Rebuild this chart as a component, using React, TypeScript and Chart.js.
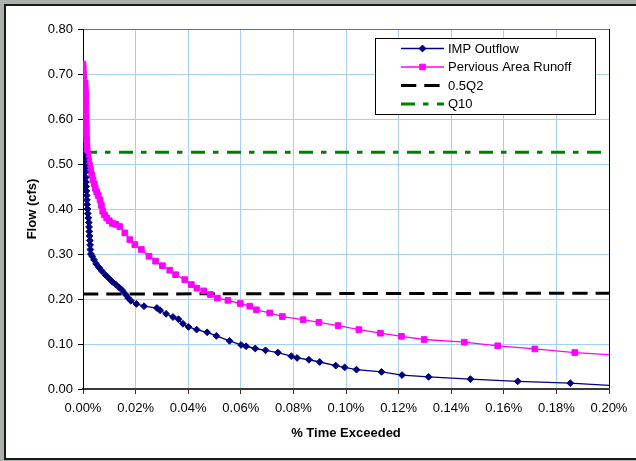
import { useEffect, useRef } from 'react';
import { Chart, registerables } from 'chart.js';

Chart.register(...registerables);

// % Time Exceeded (x, in percent) and Flow (cfs) (y)
const impOutflowX = [
  0.0, 0.0002, 0.0003, 0.0005, 0.0006, 0.0008, 0.001, 0.0011, 0.0012, 0.0013, 0.0014, 0.0015,
  0.0016, 0.0017, 0.0018, 0.002, 0.0022, 0.0023, 0.0024, 0.0025, 0.0026, 0.0027, 0.0028, 0.003,
  0.0035, 0.0042, 0.005, 0.0061, 0.0072, 0.0086, 0.01, 0.0112, 0.0125, 0.0137, 0.015, 0.0162,
  0.0172, 0.0182, 0.0203, 0.0232, 0.0281, 0.0293, 0.0316, 0.0342, 0.0363, 0.038, 0.0401, 0.0432,
  0.0472, 0.0507, 0.0557, 0.0601, 0.062, 0.0655, 0.0694, 0.0741, 0.0792, 0.0814, 0.0859, 0.09,
  0.0961, 0.0995, 0.104, 0.1135, 0.1213, 0.1314, 0.1473, 0.1653, 0.1853, 0.207,
];
const impOutflowY = [
  0.52, 0.512, 0.505, 0.497, 0.49, 0.482, 0.47, 0.46, 0.45, 0.44, 0.43, 0.42,
  0.41, 0.4, 0.39, 0.38, 0.37, 0.36, 0.35, 0.34, 0.33, 0.32, 0.31, 0.3,
  0.295, 0.287, 0.278, 0.27, 0.262, 0.253, 0.245, 0.238, 0.232, 0.226, 0.219, 0.21,
  0.202, 0.196, 0.189, 0.184, 0.18, 0.175, 0.167, 0.16, 0.155, 0.145, 0.138, 0.132,
  0.126, 0.118, 0.107, 0.098, 0.095, 0.09, 0.086, 0.081, 0.073, 0.069, 0.065, 0.06,
  0.052, 0.048, 0.043, 0.038, 0.031, 0.027, 0.022, 0.017, 0.013, 0.006,
];

const perviousX = [
  0.0, 0.0001, 0.0002, 0.0003, 0.0008, 0.0009, 0.001, 0.001, 0.0011, 0.0011, 0.0012, 0.0012,
  0.0013, 0.0013, 0.0014, 0.0015, 0.0016, 0.0018, 0.0021, 0.0025, 0.0029, 0.0033, 0.0038, 0.0043,
  0.0047, 0.0052, 0.0058, 0.0065, 0.007, 0.0075, 0.0082, 0.009, 0.01, 0.0112, 0.0125, 0.014,
  0.0159, 0.0178, 0.0197, 0.0222, 0.0251, 0.0276, 0.0302, 0.033, 0.0352, 0.0387, 0.0412, 0.0433,
  0.0459, 0.0484, 0.0511, 0.0551, 0.0598, 0.0634, 0.0659, 0.071, 0.0758, 0.0837, 0.0897, 0.097,
  0.1049, 0.1131, 0.1211, 0.1297, 0.145, 0.1577, 0.1718, 0.187, 0.207,
];
const perviousY = [
  0.722, 0.712, 0.7, 0.69, 0.68, 0.668, 0.655, 0.642, 0.63, 0.618, 0.605, 0.592,
  0.58, 0.568, 0.555, 0.542, 0.53, 0.52, 0.508, 0.497, 0.487, 0.476, 0.465, 0.456,
  0.446, 0.438, 0.43, 0.42, 0.408, 0.395, 0.387, 0.38, 0.374, 0.368, 0.366, 0.361,
  0.347, 0.332, 0.321, 0.31, 0.295, 0.284, 0.274, 0.264, 0.254, 0.243, 0.232, 0.224,
  0.218, 0.21, 0.202, 0.197, 0.19, 0.184, 0.176, 0.169, 0.161, 0.154, 0.148, 0.141,
  0.132, 0.124, 0.117, 0.11, 0.104, 0.096, 0.089, 0.081, 0.074,
];

const halfQ2X = [0.0, 0.2];
const halfQ2Y = [0.211, 0.213];
const q10X = [0.0, 0.2];
const q10Y = [0.526, 0.526];

const seriesLabels = ['IMP Outflow', 'Pervious Area Runoff', '0.5Q2', 'Q10'];

const xTickValues = [0, 0.02, 0.04, 0.06, 0.08, 0.1, 0.12, 0.14, 0.16, 0.18, 0.2];
const yTickValues = [0, 0.1, 0.2, 0.3, 0.4, 0.5, 0.6, 0.7, 0.8];

const FONT = "'Liberation Sans', Arial, sans-serif";

const toPoints = (xs: number[], ys: number[]) => xs.map((x, i) => ({ x, y: ys[i] }));

const framePlugin = {
  id: 'frame',
  beforeDraw(chart: any) {
    const { ctx, width, height } = chart;
    ctx.save();
    ctx.fillStyle = '#a9b1a9';
    ctx.fillRect(0, 0, width, height);
    ctx.fillStyle = '#ffffff';
    ctx.fillRect(5, 5, width - 5, 454);
    ctx.strokeStyle = '#1a1a1a';
    ctx.lineWidth = 2;
    ctx.beginPath();
    ctx.moveTo(width + 2, 5);
    ctx.lineTo(5, 5);
    ctx.lineTo(5, 459);
    ctx.lineTo(width + 2, 459);
    ctx.stroke();
    ctx.restore();
  },
};

const legendPlugin = {
  id: 'insideLegend',
  afterDraw(chart: any) {
    const { ctx } = chart;
    const bx = 375.5, by = 38.5, bw = 220, bh = 76;
    ctx.save();
    ctx.fillStyle = '#ffffff';
    ctx.fillRect(bx, by, bw, bh);
    ctx.strokeStyle = '#000000';
    ctx.lineWidth = 1;
    ctx.strokeRect(bx, by, bw, bh);
    const rows = [48.5, 67, 85.5, 104];
    const x0 = 401, x1 = 444, xm = 422.5;
    chart.data.datasets.forEach((ds: any, i: number) => {
      const y = rows[i];
      ctx.save();
      ctx.strokeStyle = ds.borderColor;
      ctx.lineWidth = ds.borderWidth;
      ctx.setLineDash(ds.borderDash || []);
      ctx.beginPath();
      ctx.moveTo(x0, y);
      ctx.lineTo(x1, y);
      ctx.stroke();
      ctx.setLineDash([]);
      if (ds.pointRadius > 0) {
        ctx.fillStyle = ds.backgroundColor;
        ctx.strokeStyle = ds.borderColor;
        ctx.lineWidth = 1;
        ctx.beginPath();
        if (ds.pointStyle === 'rectRot') {
          const r = 3.4;
          ctx.moveTo(xm - r, y);
          ctx.lineTo(xm, y - r);
          ctx.lineTo(xm + r, y);
          ctx.lineTo(xm, y + r);
          ctx.closePath();
        } else {
          const s = 2.8;
          ctx.rect(xm - s, y - s, 2 * s, 2 * s);
        }
        ctx.fill();
        ctx.stroke();
      }
      ctx.restore();
      ctx.fillStyle = '#000000';
      ctx.font = `13px ${FONT}`;
      ctx.textBaseline = 'middle';
      ctx.textAlign = 'left';
      ctx.fillText(ds.label, 448, y + 0.5);
    });
    ctx.restore();
  },
};

export default function App() {
  const canvasRef = useRef<HTMLCanvasElement | null>(null);

  useEffect(() => {
    if (!canvasRef.current) return;
    const chart = new Chart(canvasRef.current, {
      type: 'scatter',
      data: {
        datasets: [
          {
            label: seriesLabels[0],
            data: toPoints(impOutflowX, impOutflowY),
            showLine: true,
            borderColor: '#000080',
            backgroundColor: '#000080',
            borderWidth: 1.3,
            pointStyle: 'rectRot',
            pointRadius: 3.4,
            pointBorderWidth: 1,
            tension: 0,
          },
          {
            label: seriesLabels[1],
            data: toPoints(perviousX, perviousY),
            showLine: true,
            borderColor: '#ff00ff',
            backgroundColor: '#ff00ff',
            borderWidth: 1.3,
            pointStyle: 'rect',
            pointRadius: 4,
            pointBorderWidth: 1,
            tension: 0,
          },
          {
            label: seriesLabels[2],
            data: toPoints(halfQ2X, halfQ2Y),
            showLine: true,
            borderColor: '#000000',
            backgroundColor: '#000000',
            borderWidth: 3,
            borderDash: [15.3, 8],
            pointRadius: 0,
          },
          {
            label: seriesLabels[3],
            data: toPoints(q10X, q10Y),
            showLine: true,
            borderColor: '#008000',
            backgroundColor: '#008000',
            borderWidth: 3,
            borderDash: [14, 8, 5.5, 8.5],
            pointRadius: 0,
          },
        ] as any,
      },
      options: {
        animation: false,
        responsive: false,
        events: [],
        layout: { padding: { left: 0, top: 29, right: 27, bottom: 0 } },
        plugins: {
          legend: { display: false },
          tooltip: { enabled: false },
          title: { display: false },
        },
        scales: {
          x: {
            type: 'linear',
            min: 0,
            max: 0.2,
            afterFit: (s: any) => { s.height = 72; },
            afterBuildTicks: (s: any) => { s.ticks = xTickValues.map((v) => ({ value: v })); },
            ticks: {
              padding: 7,
              color: '#000',
              font: { family: FONT, size: 13 },
              callback: (v: any) => Number(v).toFixed(2) + '%',
            },
            grid: {
              color: (c: any) => (c.tick && Math.abs(c.tick.value - 0.2) < 1e-9 ? '#000000' : '#a6cff7'),
              lineWidth: 1,
              tickLength: 5,
              tickColor: '#333333',
            },
            border: { color: '#3a3a3a', width: 2 },
            title: {
              display: true,
              text: '% Time Exceeded',
              color: '#000',
              font: { family: FONT, size: 13, weight: 'bold' },
              padding: { top: 0, bottom: 20 },
            },
          },
          y: {
            type: 'linear',
            min: 0,
            max: 0.8,
            afterFit: (s: any) => { s.width = 83; },
            afterBuildTicks: (s: any) => { s.ticks = yTickValues.map((v) => ({ value: v })); },
            ticks: {
              padding: 5,
              color: '#000',
              font: { family: FONT, size: 13 },
              callback: (v: any) => Number(v).toFixed(2),
            },
            grid: {
              color: (c: any) => (c.tick && Math.abs(c.tick.value - 0.8) < 1e-9 ? '#66727e' : '#a6cff7'),
              lineWidth: 1,
              tickLength: 5,
              tickColor: '#000000',
            },
            border: { color: '#000000', width: 1 },
            title: {
              display: true,
              text: 'Flow (cfs)',
              color: '#000',
              font: { family: FONT, size: 13, weight: 'bold' },
              padding: { top: 25, bottom: 0 },
            },
          },
        },
      } as any,
      plugins: [framePlugin, legendPlugin],
    });
    return () => chart.destroy();
  }, []);

  return (
    <div style={{ position: 'fixed', left: 0, top: 0, width: 636, height: 461 }}>
      <canvas ref={canvasRef} width={636} height={461} style={{ display: 'block' }} />
    </div>
  );
}
